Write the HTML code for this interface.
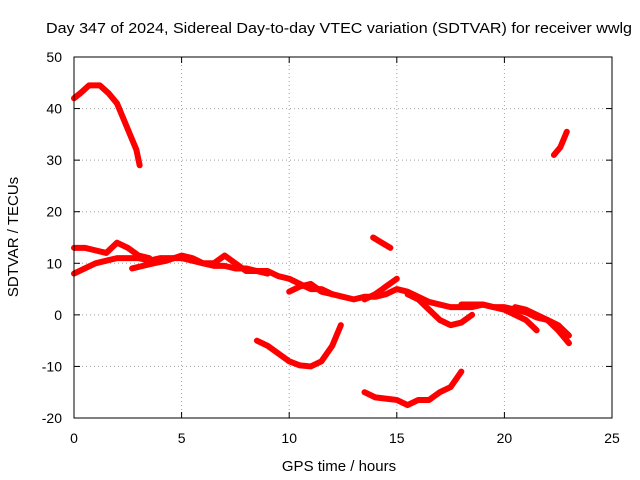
<!DOCTYPE html>
<html><head><meta charset="utf-8"><style>
body{margin:0;background:#fff}
svg{display:block;font-family:"Liberation Sans",sans-serif}
</style></head><body>
<svg id="chart" width="640" height="480">
<rect width="640" height="480" fill="#fff"/>
<text x="46" y="33" font-size="15" textLength="586" lengthAdjust="spacingAndGlyphs">Day 347 of 2024, Sidereal Day-to-day VTEC variation (SDTVAR) for receiver wwlg</text>
<text x="339" y="471" font-size="15" text-anchor="middle">GPS time / hours</text>
<text transform="translate(18,237) rotate(-90)" font-size="15" text-anchor="middle">SDTVAR / TECUs</text>
<g id="grid"></g><g id="ticks"></g><g id="series"></g>
<rect x="74" y="57" width="538" height="361" fill="none" stroke="#000" stroke-width="1"/>
</svg>
<script>
const xTicks=[0,5,10,15,20,25];
const yTicks=[-20,-10,0,10,20,30,40,50];
const seg1=[[0,42],[0.3,43],[0.7,44.5],[1.2,44.5],[1.6,43],[2.0,41],[2.3,38],[2.6,35],[2.9,32],[3.05,29]];
const seg2=[[0,13],[0.5,13],[1,12.5],[1.5,12],[2,14],[2.5,13],[3,11.5],[3.5,11]];
const seg3=[[0,8],[0.5,9],[1,10],[1.5,10.5],[2,11],[2.5,11],[3,11],[3.5,10.5],[4,11],[4.5,11],[5,11],[5.5,10.5],[6,10],[6.5,9.5],[7,9.5],[7.5,9],[8,9],[8.5,8.5],[9,8.5],[9.5,7.5],[10,7],[10.5,6],[11,5],[11.5,5],[12,4],[12.5,3.5],[13,3],[13.5,3.5],[14,3.5],[14.5,4],[15,5],[15.5,4.5],[16,3.5],[16.5,2.5],[17,2],[17.5,1.5],[18,1.5],[18.5,1.5],[19,2],[19.5,1.5],[20,1.5],[20.5,1],[21,0.5],[21.5,-0.5],[22,-1],[22.5,-2],[23,-4]];
const seg4=[[2.7,9],[3.2,9.5],[3.7,10],[4.3,10.5],[5,11.5],[5.5,11],[6,10],[6.5,10],[7,11.5],[7.5,10],[8,8.5],[8.5,8.5],[9,8]];
const seg5=[[10,4.5],[10.5,5.5],[11,6],[11.5,4.5],[12,4]];
const seg6=[[13.5,3],[14,4],[14.5,5.5],[15,7]];
const seg7=[[13.9,15],[14.7,13]];
const seg8=[[15.5,4],[16,3],[16.5,1],[17,-1],[17.5,-2],[18,-1.5],[18.5,0]];
const seg9=[[18,2],[19,2],[20,1],[21,-1],[21.5,-3]];
const seg10=[[20.5,1.5],[21,1],[22,-1],[22.5,-3],[23,-5.5]];
const seg11=[[8.5,-5],[9,-6],[9.5,-7.5],[10,-9],[10.5,-9.8],[11,-10],[11.5,-9],[12,-6],[12.4,-2]];
const seg12=[[13.5,-15],[14,-16],[15,-16.5],[15.5,-17.5],[16,-16.5],[16.5,-16.5],[17,-15],[17.5,-14],[18,-11]];
const seg13=[[22.3,31],[22.6,32.5],[22.9,35.5]];
const segments=[seg1,seg2,seg3,seg4,seg5,seg6,seg7,seg8,seg9,seg10,seg11,seg12,seg13];
const X=v=>74+v*(538/25);
const Y=v=>418-(v+20)*(361/70);
const NS="http://www.w3.org/2000/svg";
const grid=document.getElementById('grid'),ticks=document.getElementById('ticks'),ser=document.getElementById('series');
function mk(tag,attrs,parent){const e=document.createElementNS(NS,tag);for(const k in attrs)e.setAttribute(k,attrs[k]);parent.appendChild(e);return e;}
xTicks.forEach(t=>{
 const x=X(t);
 if(t>0&&t<25){const g=mk('line',{x1:x,x2:x,y1:57,y2:418,stroke:'#a0a0a0','stroke-dasharray':'1,3'},grid);
 
 }
 mk('line',{x1:x,x2:x,y1:418,y2:412,stroke:'#000'},ticks);
 mk('line',{x1:x,x2:x,y1:57,y2:63,stroke:'#000'},ticks);
 const l=mk('text',{x:x,y:443,'font-size':14,'text-anchor':'middle'},ticks);l.textContent=t;
 
 
});
yTicks.forEach(t=>{
 const y=Y(t);
 if(t>-20&&t<50){const g=mk('line',{x1:74,x2:612,y1:y,y2:y,stroke:'#a0a0a0','stroke-dasharray':'1,3'},grid);
 
 }
 mk('line',{x1:74,x2:80,y1:y,y2:y,stroke:'#000'},ticks);
 mk('line',{x1:606,x2:612,y1:y,y2:y,stroke:'#000'},ticks);
 const l=mk('text',{x:62,y:y+5,'font-size':14,'text-anchor':'end'},ticks);l.textContent=t;
 
 
});
segments.forEach(s=>{
 const p=mk('polyline',{points:s.map(d=>X(d[0])+','+Y(d[1])).join(' '),fill:'none',stroke:'#f00','stroke-width':6,'stroke-linejoin':'round','stroke-linecap':'round'},ser);
 
 
});
</script>
</body></html>
